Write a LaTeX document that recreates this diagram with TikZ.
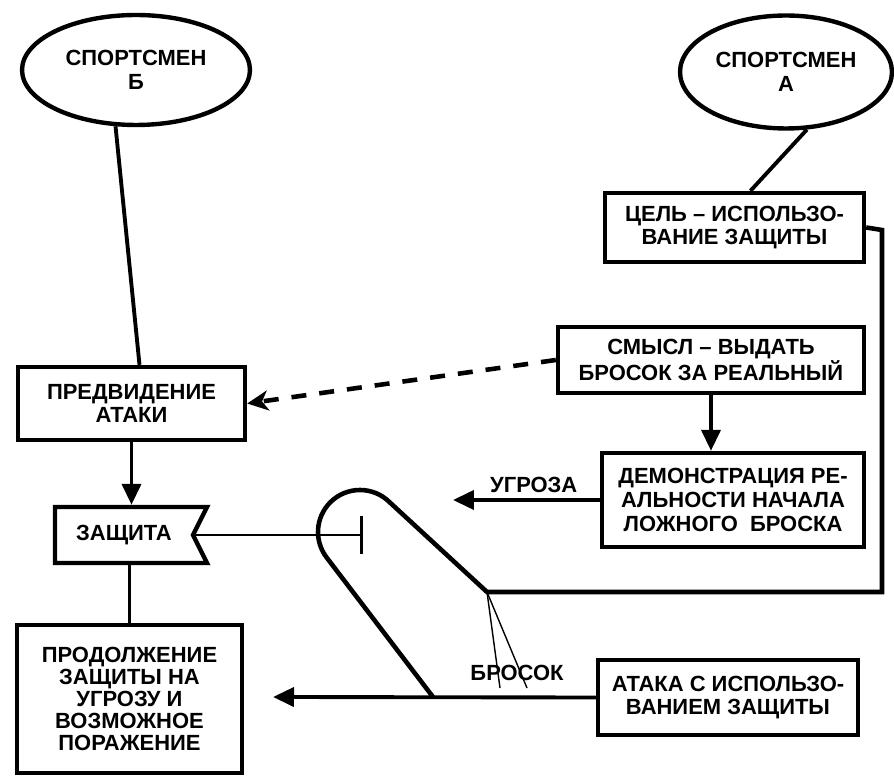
\documentclass[tikz,border=0pt]{standalone}
\usepackage{fontspec}
\setmainfont{Liberation Sans}
\usetikzlibrary{shapes.geometric, shapes.symbols, arrows.meta, positioning, calc}

\begin{document}
\begin{tikzpicture}[
        x=0.02cm, y=-0.02cm,
        box/.style={rectangle, draw=black, line width=2.5pt, align=center, inner sep=2pt, font=\bfseries\fontsize{12.5pt}{13.5pt}\selectfont},
        athlete/.style={ellipse, draw=black, line width=2.5pt, align=center, inner sep=0pt, font=\bfseries\fontsize{12.5pt}{14pt}\selectfont},
        flag/.style={signal, signal to=nowhere, signal from=east, signal pointer angle=127, draw=black, line width=2.5pt, inner sep=2pt, font=\bfseries\fontsize{12.5pt}{14pt}\selectfont},
        lbl/.style={inner sep=1pt, font=\bfseries\fontsize{12.5pt}{14pt}\selectfont},
        link/.style={line width=2.2pt},
        arrow/.style={link, -{Triangle[length=0.42cm, width=0.38cm]}},
        hint/.style={link, line width=2.6pt, dash pattern=on 0.3cm off 0.26cm, -{Stealth[length=0.42cm, width=0.4cm, inset=0.12cm]}}
    ]
        \useasboundingbox (0,0) rectangle (894,776);

        % athletes
        \node[athlete, minimum width=4.56cm, minimum height=2.2cm] (spB) at (136,70) {СПОРТСМЕН\\Б};
        \node[athlete, minimum width=4.24cm, minimum height=2.26cm] (spA) at (786,72) {СПОРТСМЕН\\А};

        % right column
        \node[box, minimum width=5.18cm, minimum height=1.38cm] (goal) at (734.5,227.5) {ЦЕЛЬ – ИСПОЛЬЗО-\\ВАНИЕ ЗАЩИТЫ};
        \node[box, minimum width=6.12cm, minimum height=1.32cm] (sense) at (711,360) {СМЫСЛ – ВЫДАТЬ\\БРОСОК ЗА РЕАЛЬНЫЙ};
        \node[box, minimum width=5.24cm, minimum height=1.88cm] (demo) at (733,500) {ДЕМОНСТРАЦИЯ РЕ-\\АЛЬНОСТИ НАЧАЛА\\ЛОЖНОГО\ \ БРОСКА};
        \node[box, minimum width=5.2cm, minimum height=1.5cm] (attack) at (728,697.5) {АТАКА С ИСПОЛЬЗО-\\ВАНИЕМ ЗАЩИТЫ};

        % left column
        \node[box, minimum width=4.54cm, minimum height=1.46cm] (foresee) at (131.5,403.5) {ПРЕДВИДЕНИЕ\\АТАКИ};
        \node[flag, minimum width=3.04cm, minimum height=1.12cm] (defence) at (124,535) {ЗАЩИТА};
        \node[box, minimum width=4.5cm, minimum height=2.96cm, font=\bfseries\fontsize{12.5pt}{12.5pt}\selectfont] (cont) at (129.5,699) {ПРОДОЛЖЕНИЕ\\ЗАЩИТЫ НА\\УГРОЗУ И\\ВОЗМОЖНОЕ\\ПОРАЖЕНИЕ};

        \coordinate (tip) at (487,592);
        \coordinate (stop) at (363,535);
        \coordinate (threatend) at (453,500);
        \coordinate (throwend) at (273,697);
        \coordinate (fanA) at (500,688);
        \coordinate (fanB) at (527,688);

        \draw[link] (spB.250) -- ($(foresee.north)+(8,0)$);
        \draw[link] (spA.290) -- ($(goal.north)+(16,0)$);
        \draw[arrow] (foresee.south) -- (foresee.south |- defence.north);
        \draw[link] (defence.south -| cont.north) -- (cont.north);
        \draw[link, line width=1.7pt, -{Bar[width=0.76cm]}] (defence.east) -- (stop);
        \draw[hint] (sense.west) -- (foresee.east);
        \draw[arrow] (sense.south) -- (sense.south |- demo.north);
        \draw[arrow] (demo.west) -- node[lbl, above, pos=0.45, yshift=2pt] (threat) {УГРОЗА} (threatend);
        \draw[arrow] (attack.west) -- (throwend);

        % loop from the goal round to the throw
        \draw[link, line width=2.6pt] (goal.east) -- (882,230) -- (882,592) -- (tip) -- (389.7,502.3)
            arc[start angle=-45, end angle=-217, radius=42] -- (433,697);
        \draw[line width=0.8pt] (tip) -- (fanA);
        \draw[line width=0.8pt] (tip) -- (fanB);
        \node[lbl] (throw) at (517,673) {БРОСОК};
    \end{tikzpicture}
\end{document}
